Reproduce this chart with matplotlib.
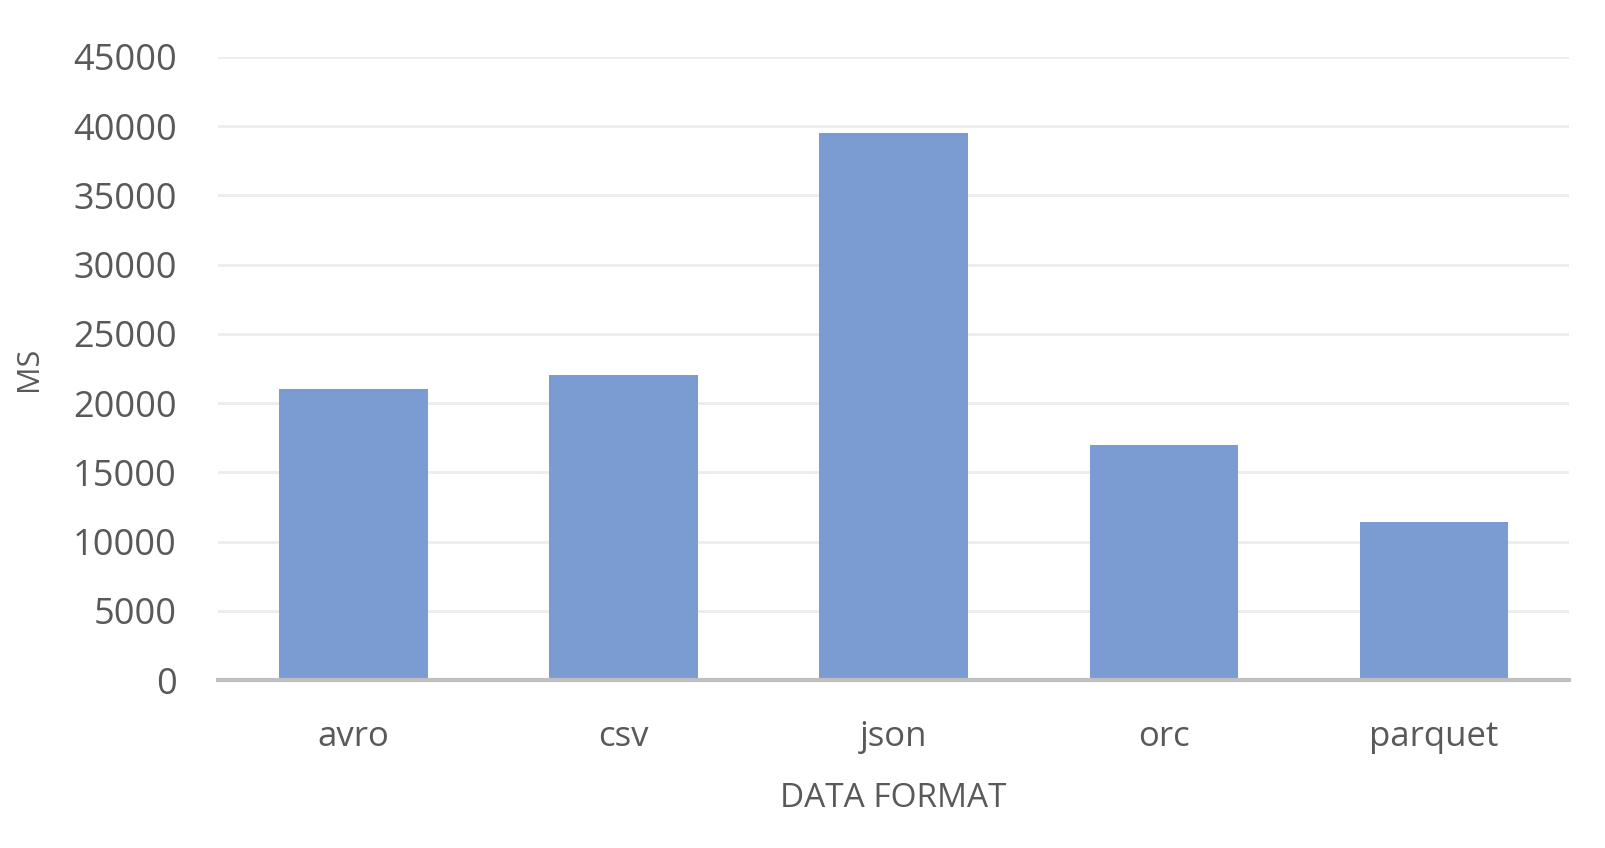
import matplotlib.pyplot as plt

# read time per data format
formats = ['avro', 'csv', 'json', 'orc', 'parquet']
ms = [21000, 22000, 39500, 17000, 11400]
yticks = [0, 5000, 10000, 15000, 20000, 25000, 30000, 35000, 40000, 45000]

plt.rcParams['font.family'] = ['Open Sans', 'DejaVu Sans']
txt = '#595959'

fig = plt.figure(figsize=(16.06, 8.48), dpi=100)
ax = fig.add_axes([0.136, 0.198, 0.841, 0.735])

ax.bar(range(len(formats)), ms, width=0.55, color='#7A9CD3', zorder=3)

ax.set_xlim(-0.5, len(formats) - 0.5)
ax.set_ylim(0, 45000)
ax.set_yticks(yticks)
ax.set_xticks(range(len(formats)))
ax.set_xticklabels(formats)
ax.grid(axis='y', color='#EDEDED', linewidth=2, zorder=0)
ax.set_axisbelow(True)

for s in ['top', 'right', 'left']:
    ax.spines[s].set_visible(False)
ax.spines['bottom'].set_color('#BFBFBF')
ax.spines['bottom'].set_linewidth(3)
ax.spines['bottom'].set_zorder(4)

ax.tick_params(axis='y', length=0, pad=30, labelsize=26, labelcolor=txt)
ax.tick_params(axis='x', length=0, pad=29, labelsize=25, labelcolor=txt)

ax.set_xlabel('DATA FORMAT', fontsize=24, color=txt, labelpad=20)
ax.set_ylabel('MS', fontsize=22, color=txt, labelpad=21)

plt.savefig('out.png', dpi=100)
